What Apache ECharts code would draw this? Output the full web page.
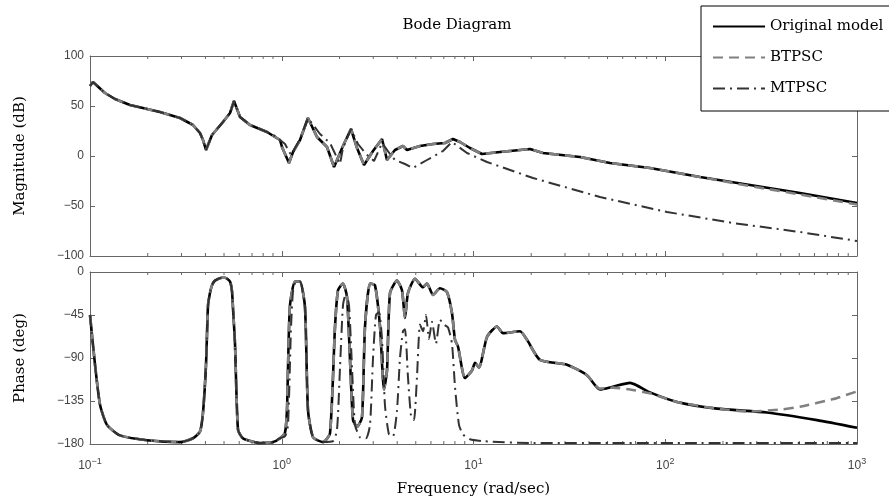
<!DOCTYPE html>
<html>
<head>
<meta charset="utf-8">
<script src="https://cdn.jsdelivr.net/npm/echarts@6/dist/echarts.min.js"></script>
<style>
  html, body { margin: 0; padding: 0; background: #fff; }
  #chart { width: 889px; height: 500px; }
</style>
</head>
<body>
<div id="chart"></div>
<script>
// magnitude (dB), original model and BTPSC share the frequency list
const magFreq = [0.1, 0.1036, 0.1197, 0.135, 0.1616, 0.2317, 0.2947, 0.3445, 0.3747, 0.3885, 0.4027, 0.4327, 0.4939, 0.5373, 0.5636, 0.6058, 0.683, 0.8376, 0.9792, 1.003, 1.091, 1.145, 1.245, 1.37, 1.527, 1.722, 1.874, 2.086, 2.297, 2.469, 2.685, 2.992, 3.333, 3.539, 3.895, 4.288, 4.499, 5.261, 6.149, 7.1, 7.816, 8.501, 9.588, 11.07, 13.75, 19.71, 23.04, 35.93, 51.5, 83.27, 151.8, 276.7, 504.4, 1000];
const magOrig = [70, 74, 63, 57, 51, 44, 38, 31, 23, 16, 6, 21, 34, 43, 55, 39, 31, 24, 16, 9, -7, 4, 16, 38, 19, 9, -11, 10, 27, 8, -9, 5, 17, -4, 6, 10, 6, 10, 12, 13, 17, 14, 8, 2, 4, 7, 3, -1, -7, -12, -21, -29, -37, -47];
const magBt = [70, 74, 63, 57, 51, 44, 38, 31, 23, 16, 6, 21, 34, 43, 55, 39, 31, 24, 16, 9, -7, 4, 16, 38, 19, 9, -11, 10, 27, 8, -9, 5, 17, -4, 6, 10, 6, 10, 12, 13, 17, 14, 8, 2, 4, 7, 3, -1, -7, -12, -21, -30, -38.5, -48.5];
const magMtFreq = [0.1, 0.1036, 0.1197, 0.135, 0.1616, 0.2317, 0.2947, 0.3445, 0.3747, 0.3885, 0.4027, 0.4327, 0.4939, 0.5373, 0.5636, 0.6058, 0.683, 0.8376, 0.9221, 1.04, 1.117, 1.158, 1.245, 1.37, 1.583, 1.785, 2.013, 2.086, 2.297, 2.498, 2.75, 3.028, 3.333, 3.669, 3.895, 4.392, 4.834, 5.721, 6.932, 7.723, 9.249, 11.76, 20.43, 45.68, 102.1, 225.6, 504.4, 1000];
const magMt = [70, 74, 63, 57, 51, 44, 38, 31, 23, 16, 6, 21, 34, 43, 55, 39, 31, 24, 20, 12, 1, 6, 17, 38, 22, 13, -8, 8, 27, 12, 2, -5, 13, 2, -4, -8, -12, -4, 5, 14, 3, -6, -22, -41, -56, -67, -76, -85];

// phase (deg)
const phFreq = [0.1, 0.1062, 0.1128, 0.1226, 0.1434, 0.1983, 0.2947, 0.3445, 0.3747, 0.3885, 0.4027, 0.4126, 0.4224, 0.4327, 0.4486, 0.488, 0.5059, 0.5373, 0.55, 0.5569, 0.5704, 0.5914, 0.628, 0.77, 0.9002, 0.9792, 1.04, 1.065, 1.078, 1.104, 1.172, 1.245, 1.322, 1.37, 1.456, 1.641, 1.785, 1.896, 1.965, 2.086, 2.189, 2.27, 2.353, 2.469, 2.621, 2.718, 2.886, 3.064, 3.254, 3.414, 3.539, 3.669, 3.99, 4.237, 4.392, 4.553, 4.952, 5.454, 5.721, 6.149, 6.687, 7.273, 7.723, 8.006, 8.3, 9.03, 9.821, 10.18, 10.68, 11.76, 13.26, 14.25, 17.48, 19.01, 22.22, 30.73, 39.07, 45.68, 53.39, 65.49, 83.27, 115.2, 186.2, 339.4, 618.6, 1000];
const phOrig = [-45, -97, -139, -160, -171, -176, -178, -174, -167, -147, -97, -35, -22, -14, -9, -6, -6, -10, -20, -38, -75, -165, -174, -179, -178, -174, -168, -144, -100, -35, -10, -10, -37, -144, -173, -178, -169, -57, -19, -12, -26, -92, -155, -162, -152, -57, -12, -14, -57, -123, -103, -22, -9, -19, -48, -22, -7, -16, -12, -24, -17, -21, -43, -71, -78, -111, -103, -95, -100, -68, -57, -64, -62, -71, -92, -97, -108, -123, -120, -116, -126, -136, -143, -147, -155, -163];
const phBtFreq = [0.1, 0.1062, 0.1128, 0.1226, 0.1434, 0.1983, 0.2947, 0.3445, 0.3747, 0.3885, 0.4027, 0.4126, 0.4224, 0.4327, 0.4486, 0.488, 0.5059, 0.5373, 0.55, 0.5569, 0.5704, 0.5914, 0.628, 0.77, 0.9002, 0.9792, 1.04, 1.065, 1.078, 1.104, 1.172, 1.245, 1.322, 1.37, 1.456, 1.641, 1.785, 1.896, 1.965, 2.086, 2.189, 2.27, 2.353, 2.469, 2.621, 2.718, 2.886, 3.064, 3.254, 3.414, 3.539, 3.669, 3.99, 4.237, 4.392, 4.553, 4.952, 5.454, 5.721, 6.149, 6.687, 7.273, 7.723, 8.006, 8.3, 9.03, 9.821, 10.18, 10.68, 11.76, 13.26, 14.25, 17.48, 19.01, 22.22, 30.73, 39.07, 45.68, 53.39, 65.49, 83.27, 115.2, 186.2, 276.7, 396.7, 504.4, 749.6, 1000];
const phBt = [-45, -97, -139, -160, -171, -176, -178, -174, -167, -147, -97, -35, -22, -14, -9, -6, -6, -10, -20, -38, -75, -165, -174, -179, -178, -174, -168, -144, -100, -35, -10, -10, -37, -144, -173, -178, -169, -57, -19, -12, -26, -92, -155, -162, -152, -57, -12, -14, -57, -123, -103, -22, -9, -19, -48, -22, -7, -16, -12, -24, -17, -21, -43, -71, -78, -111, -103, -95, -100, -68, -57, -64, -62, -71, -92, -97, -108, -122, -121, -123, -127, -136, -143, -146, -144, -141, -133, -125];
const phMtFreq = [0.1, 0.1062, 0.1128, 0.1226, 0.1434, 0.1983, 0.2947, 0.3445, 0.3747, 0.3885, 0.4027, 0.4126, 0.4224, 0.4327, 0.4486, 0.488, 0.5059, 0.5373, 0.55, 0.5569, 0.5704, 0.5914, 0.628, 0.77, 0.9002, 0.9792, 1.04, 1.078, 1.117, 1.145, 1.187, 1.245, 1.322, 1.37, 1.456, 1.641, 1.851, 1.942, 2.013, 2.086, 2.163, 2.243, 2.325, 2.41, 2.559, 2.75, 2.886, 2.992, 3.101, 3.215, 3.333, 3.455, 3.625, 3.803, 3.99, 4.136, 4.288, 4.392, 4.553, 4.72, 4.893, 5.072, 5.261, 5.454, 5.653, 5.86, 6.075, 6.373, 6.687, 7.016, 7.361, 7.723, 8.006, 8.4, 8.815, 9.588, 11.21, 20.43, 45.68, 151.8, 1000];
const phMt = [-45, -97, -139, -160, -171, -176, -178, -174, -167, -147, -97, -35, -22, -14, -9, -6, -6, -10, -20, -38, -75, -165, -174, -179, -178, -174, -172, -160, -60, -20, -10, -10, -37, -144, -173, -178, -177, -165, -100, -35, -22, -35, -100, -160, -173, -174, -160, -90, -45, -42, -70, -140, -170, -172, -145, -90, -62, -60, -110, -150, -155, -110, -55, -62, -45, -70, -52, -75, -50, -55, -58, -75, -120, -160, -170, -175, -177, -179, -179, -179, -179];

const minorTicks = [0.2, 0.3, 0.4, 0.5, 0.6, 0.7, 0.8, 0.9, 2, 3, 4, 5, 6, 7, 8, 9, 20, 30, 40, 50, 60, 70, 80, 90, 200, 300, 400, 500, 600, 700, 800, 900];
const magTicks = [-100, 100, 50];
const phTicks = [-180, 0, 45];

const serif = 'DejaVu Serif';
const sans = 'Liberation Sans';
const frame = '#666';

function pairs(xs, ys) { return xs.map((x, i) => [x, ys[i]]); }
function minus(v) { return String(v).replace('-', '\u2212'); }

function xAxisFor(grid, pos, labels) {
  return {
    gridIndex: grid, type: 'log', logBase: 10, min: 0.1, max: 1000, position: pos,
    axisLine: { show: true, onZero: false, lineStyle: { color: frame, width: 1 } },
    axisTick: { show: true, inside: true, length: 5, lineStyle: { color: frame } },
    splitLine: { show: false },
    axisLabel: labels ? {
      show: true, margin: 13,
      formatter: v => '{b|10}{e|' + minus(Math.round(Math.log10(v))) + '}',
      rich: {
        b: { fontFamily: sans, fontSize: 12, color: '#444' },
        e: { fontFamily: sans, fontSize: 9, color: '#444', padding: [0, 0, 9, 0] }
      }
    } : { show: false },
    name: labels ? 'Frequency (rad/sec)' : '',
    nameLocation: 'middle', nameGap: 38,
    nameTextStyle: { fontFamily: serif, fontSize: 15, color: '#000' }
  };
}

function yAxisFor(grid, pos, ticks, title) {
  return {
    gridIndex: grid, type: 'value', min: ticks[0], max: ticks[1], interval: ticks[2], position: pos,
    axisLine: { show: true, onZero: false, lineStyle: { color: frame, width: 1 } },
    axisTick: { show: true, inside: true, length: 5, lineStyle: { color: frame } },
    splitLine: { show: false },
    axisLabel: title ? { show: true, margin: 6, fontFamily: sans, fontSize: 12, color: '#444', formatter: minus } : { show: false },
    name: title || '', nameLocation: 'middle', nameGap: 62,
    nameTextStyle: { fontFamily: serif, fontSize: 15, color: '#000' }
  };
}

function minorSeries(xi, yi, lo, hi) {
  return {
    type: 'custom', xAxisIndex: xi, yAxisIndex: yi, silent: true,
    data: minorTicks.map(f => [f, lo]),
    encode: { x: 0, y: 1 },
    renderItem: (params, api) => {
      const f = api.value(0);
      const t = api.coord([f, hi]);
      const b = api.coord([f, lo]);
      const st = { stroke: frame, lineWidth: 1 };
      return { type: 'group', children: [
        { type: 'line', shape: { x1: t[0], y1: t[1], x2: t[0], y2: t[1] + 3 }, style: st },
        { type: 'line', shape: { x1: b[0], y1: b[1], x2: b[0], y2: b[1] - 3 }, style: st }
      ] };
    }
  };
}

const styles = {
  'Original model': { color: '#000', width: 2.6, type: 'solid' },
  'BTPSC': { color: '#808080', width: 2.6, type: [10, 6] },
  'MTPSC': { color: '#333', width: 2, type: [12, 5, 2, 5] }
};

function line(name, xi, yi, data, smooth) {
  const s = styles[name];
  return {
    name, type: 'line', xAxisIndex: xi, yAxisIndex: yi, data,
    symbol: 'none', showSymbol: false, animation: false,
    smooth: smooth,
    itemStyle: { color: s.color },
    lineStyle: { color: s.color, width: s.width, type: s.type }
  };
}

const chart = echarts.init(document.getElementById('chart'), null, { renderer: 'canvas' });
chart.setOption({
  backgroundColor: '#fff',
  animation: false,
  title: {
    text: 'Bode Diagram', left: 452, top: 13, textAlign: 'center',
    textStyle: { fontFamily: serif, fontSize: 15, fontWeight: 'normal', color: '#000' }
  },
  legend: {
    data: ['Original model', 'BTPSC', 'MTPSC'],
    orient: 'vertical', left: 701, top: 6,
    padding: [13, 30, 15, 11], itemWidth: 52, itemHeight: 14, itemGap: 16,
    backgroundColor: '#fff', borderColor: '#000', borderWidth: 1,
    itemStyle: { opacity: 0 },
    textStyle: { fontFamily: serif, fontSize: 15, color: '#000' }
  },
  grid: [
    { left: 90, right: 32, top: 56, height: 200 },
    { left: 90, right: 32, top: 272, height: 172 }
  ],
  xAxis: [xAxisFor(0, 'bottom', false), xAxisFor(0, 'top', false), xAxisFor(1, 'bottom', true), xAxisFor(1, 'top', false)],
  yAxis: [yAxisFor(0, 'left', magTicks, 'Magnitude (dB)'), yAxisFor(0, 'right', magTicks, null),
          yAxisFor(1, 'left', phTicks, 'Phase (deg)'), yAxisFor(1, 'right', phTicks, null)],
  series: [
    minorSeries(0, 0, -100, 100),
    minorSeries(2, 2, -180, 0),
    line('Original model', 0, 0, pairs(magFreq, magOrig), false),
    line('BTPSC', 0, 0, pairs(magFreq, magBt), false),
    line('MTPSC', 0, 0, pairs(magMtFreq, magMt), false),
    line('Original model', 2, 2, pairs(phFreq, phOrig), 0.2),
    line('BTPSC', 2, 2, pairs(phBtFreq, phBt), 0.2),
    line('MTPSC', 2, 2, pairs(phMtFreq, phMt), 0.2)
  ]
});
</script>
</body>
</html>
